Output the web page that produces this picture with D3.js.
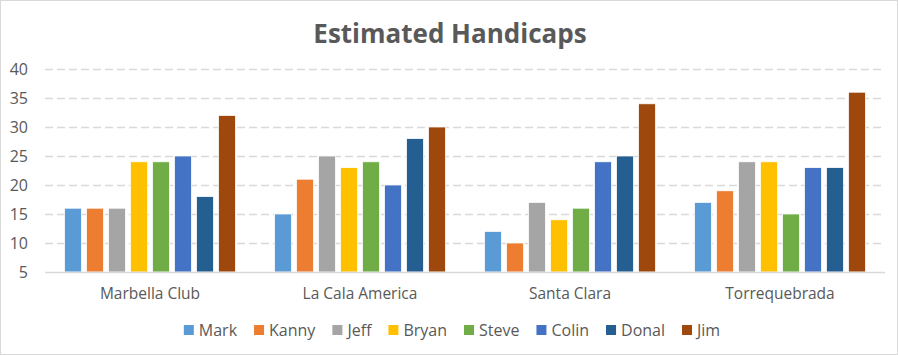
<!DOCTYPE html>
<html><head><meta charset="utf-8">
<script src="https://cdn.jsdelivr.net/npm/d3@7"></script>
<style>body{margin:0;background:#fff}svg{display:block}</style>
</head><body>
<svg id="c" width="898" height="355"></svg>
<script>
const title = "Estimated Handicaps";
const categories = ["Marbella Club", "La Cala America", "Santa Clara", "Torrequebrada"];
const seriesNames = ["Mark", "Kanny", "Jeff", "Bryan", "Steve", "Colin", "Donal", "Jim"];
const seriesColors = ["#5B9BD5", "#ED7D31", "#A5A5A5", "#FFC000", "#70AD47", "#4472C4", "#255E91", "#9E480E"];
const Mark  = [16, 15, 12, 17];
const Kanny = [16, 21, 10, 19];
const Jeff  = [16, 25, 17, 24];
const Bryan = [24, 23, 14, 24];
const Steve = [24, 24, 16, 15];
const Colin = [25, 20, 24, 23];
const Donal = [18, 28, 25, 23];
const Jim   = [32, 30, 34, 36];
const seriesValues = [Mark, Kanny, Jeff, Bryan, Steve, Colin, Donal, Jim];
const yTicks = [5, 10, 15, 20, 25, 30, 35, 40];

(function(){
const W = 898, H = 355;
const svg = d3.select("#c");
const font = "'Open Sans', sans-serif";
const txt = "#595959";

svg.append("rect").attr("x",0.5).attr("y",0.5).attr("width",W-1).attr("height",H-1)
  .attr("fill","#fff").attr("stroke","#D9D9D9");

const pl = 45, pr = 885, pt = 69, pb = 272;
const y = d3.scaleLinear().domain([5, 40]).range([pb, pt]);
const x0 = d3.scaleBand().domain(categories).range([pl, pr]).paddingInner(0.186).paddingOuter(0.093);
const x1 = d3.scaleBand().domain(seriesNames).range([0, x0.bandwidth()]).paddingInner(0.23).paddingOuter(0);

svg.append("g").selectAll("line").data(yTicks.filter(d => d !== 5)).join("line")
  .attr("x1", pl).attr("x2", pr)
  .attr("y1", d => Math.round(y(d)) + 0.5).attr("y2", d => Math.round(y(d)) + 0.5)
  .attr("stroke", "#D9D9D9").attr("stroke-width", 1.3).attr("stroke-dasharray", "8,4");

const yAxis = d3.axisLeft(y).tickValues(yTicks).tickSize(0).tickPadding(0);
const ga = svg.append("g").attr("transform", `translate(28,0)`).call(yAxis);
ga.select(".domain").remove();
ga.selectAll("text").attr("font-family", font).attr("font-size", 16).attr("fill", txt).attr("dy", "0.35em");

const groups = svg.append("g").selectAll("g").data(categories).join("g")
  .attr("transform", d => `translate(${x0(d)},0)`);
groups.selectAll("rect").data((c, ci) => seriesNames.map((s, si) => ({s, si, v: seriesValues[si][ci]}))).join("rect")
  .attr("x", d => x1(d.s)).attr("width", x1.bandwidth())
  .attr("y", d => y(d.v)).attr("height", d => y(5) - y(d.v))
  .attr("fill", d => seriesColors[d.si]).attr("stroke", "#fff").attr("stroke-width", 0.75);

svg.append("line").attr("x1", pl).attr("x2", pr).attr("y1", pb + 0.5).attr("y2", pb + 0.5)
  .attr("stroke", "#D9D9D9").attr("stroke-width", 1.3);

const xAxis = d3.axisBottom(x0).tickSize(0).tickPadding(0);
const gx = svg.append("g").attr("transform", `translate(0,${pb})`).call(xAxis);
gx.select(".domain").remove();
gx.selectAll("text").attr("font-family", font).attr("font-size", 15.5).attr("fill", txt).attr("dy", "1.75em");

svg.append("text").attr("x", W/2 + 1).attr("y", 43).attr("text-anchor", "middle")
  .attr("font-family", font).attr("font-weight", "bold").attr("font-size", 26).attr("fill", txt).text(title);

const lg = svg.append("g");
let cx = 0;
seriesNames.forEach((s, i) => {
  const g = lg.append("g");
  g.append("rect").attr("x", cx).attr("y", 325).attr("width", 10).attr("height", 10).attr("fill", seriesColors[i]);
  const t = g.append("text").attr("x", cx + 15).attr("y", 336).attr("font-family", font).attr("font-size", 16).attr("fill", txt).text(s);
  cx += 15 + t.node().getComputedTextLength() + 17;
});
const totalW = cx - 17;
lg.attr("transform", `translate(${(W - totalW)/2 + 3},0)`);
})();
</script>
</body></html>
